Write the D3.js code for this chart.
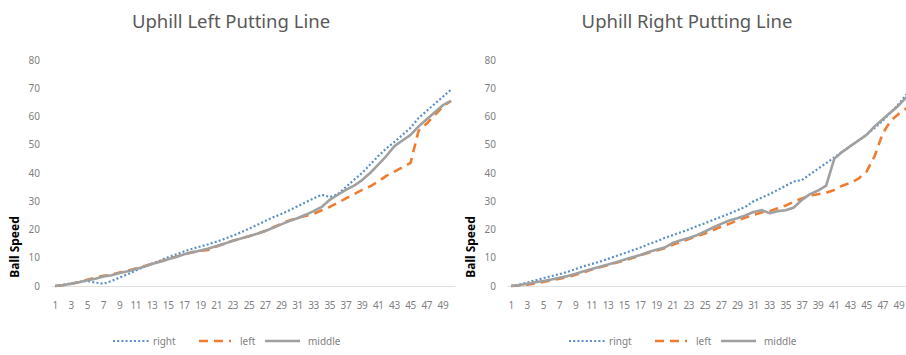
<!DOCTYPE html>
<html>
<head>
<meta charset="utf-8">
<script src="https://cdn.jsdelivr.net/npm/d3@7"></script>
<style>
  body { margin: 0; background: #fff; }
  text { font-family: "Noto Sans", "Open Sans", sans-serif; }
</style>
</head>
<body>
<div id="chart"></div>
<script>
// categories 1..50 along the x axis
var categories = [1,2,3,4,5,6,7,8,9,10,11,12,13,14,15,16,17,18,19,20,
	21,22,23,24,25,26,27,28,29,30,31,32,33,34,35,36,37,38,39,40,
	41,42,43,44,45,46,47,48,49,50];
var yTicks = [0, 10, 20, 30, 40, 50, 60, 70, 80];

// Uphill Left Putting Line
var upLeftRight = [0,0.4,1,1.5,1.8,1.2,0.8,1.8,3,4.2,5.5,6.8,8,9,10.2,11.2,12.3,13.2,14,14.8,
	15.7,16.7,17.8,19,20.3,21.6,23,24.3,25.5,26.8,28.2,29.6,31,32.3,31.5,32.5,35,37.6,40,43,
	46,48.7,51,53.5,56,59.5,62,64.5,67,69.5];
var upLeftLeft = [0,0.3,0.8,1.4,2.2,3,3.6,4,4.8,5.4,6.2,7,7.9,8.7,9.6,10.4,11.3,12,12.5,12.8,
	14,15,16,16.8,17.6,18.5,19.5,20.8,22,23.2,24.2,24.8,25.5,26.8,28,29.5,31,32.5,34,35.3,
	37,39,40.5,42,43.6,55,57.5,60.5,63.5,65.5];
var upLeftMiddle = [0,0.3,0.8,1.3,2,2.6,3.4,3.8,4.6,5.2,6,6.8,7.8,8.6,9.5,10.3,11.2,11.9,12.6,13.3,
	14.2,15,16,16.8,17.6,18.5,19.5,20.6,21.8,23,24,25.2,26.5,28,30.5,32.3,34,35.5,37.5,40,
	43,46,49.5,51.5,53.5,56.5,59,61.5,64,65.5];

// Uphill Right Putting Line
var upRightRight = [0,0.5,1.2,2,2.8,3.5,4.2,5,6,7,7.8,8.6,9.6,10.6,11.6,12.6,13.6,14.8,15.8,17,
	18,19,20,21.2,22.2,23.4,24.5,25.6,26.8,28,30,31.2,32.5,34,35.5,37,37.5,39.5,41.5,43.5,
	45.5,47.5,49.5,51.5,53.5,56,58.5,61.5,64.5,68];
var upRightLeft = [0,0.2,0.5,0.9,1.4,2,2.6,3.2,4,4.9,5.8,6.6,7.4,8.2,9,9.9,10.8,11.8,12.6,13.4,
	14.6,15.6,16.6,17.6,18.6,19.8,21,22,23.2,24.2,25.2,26,26.5,27.5,28.5,29.8,31,32,32.5,33,
	34,35.5,36.5,38,40.5,46,54,58.5,61,63];
var upRightMiddle = [0,0.3,0.8,1.3,1.8,2.3,2.9,3.5,4.3,5.2,6,6.8,7.6,8.4,9.3,10.2,11,12,12.8,13.6,
	15.2,16.2,17,18,19.3,20.7,22,23.2,24,25,26.2,26.8,25.8,26.5,26.8,27.8,30.5,32.5,33.8,35.5,
	45,47.5,49.5,51.5,53.5,56.5,59,61.5,64,67];

var W = 906, H = 355;
var svg = d3.select("#chart")
	.append("svg")
	.attr("width", W)
	.attr("height", H);

var styles = {
	right:  { color: "#5b8fc9", width: 2.2, dash: "2,2.2" },
	left:   { color: "#ed7d31", width: 2.6, dash: "9,6" },
	middle: { color: "#a0a0a0", width: 2.6, dash: null }
};

function drawPanel(offsetX, title, series, legendNames) {
	var panel = svg.append("g").attr("transform", "translate(" + offsetX + ",0)");
	var plotLeft = 51, plotW = 404, plotTop = 60, plotBottom = 286;

	var x = d3.scaleBand()
		.domain(categories)
		.range([plotLeft, plotLeft + plotW]);
	var y = d3.scaleLinear()
		.domain([0, 80])
		.range([plotBottom, plotTop]);

	panel.append("text")
		.attr("x", 231)
		.attr("y", 28)
		.attr("text-anchor", "middle")
		.attr("font-size", "18.5px")
		.attr("fill", "#595959")
		.text(title);

	panel.append("text")
		.attr("transform", "translate(19,247) rotate(-90)")
		.attr("text-anchor", "middle")
		.attr("font-size", "12px")
		.attr("font-weight", "bold")
		.attr("fill", "#000")
		.text("Ball Speed");

	var yAxis = panel.append("g")
		.attr("transform", "translate(" + plotLeft + ",0)")
		.call(d3.axisLeft(y).tickValues(yTicks).tickSize(0).tickPadding(11));
	yAxis.select(".domain").remove();
	yAxis.selectAll("text")
		.attr("font-size", "10px")
		.attr("fill", "#7f7f7f");

	var xAxis = panel.append("g")
		.attr("transform", "translate(0," + plotBottom + ")")
		.call(d3.axisBottom(x)
			.tickValues(categories.filter(function(d){ return d % 2 === 1; }))
			.tickSize(0)
			.tickPadding(16));
	xAxis.select(".domain")
		.attr("stroke", "#e0e0e0")
		.attr("stroke-width", 1);
	xAxis.selectAll("text")
		.attr("font-size", "10px")
		.attr("letter-spacing", "-0.4px")
		.attr("fill", "#7f7f7f");

	var line = d3.line()
		.x(function(d, i){ return x(categories[i]) + x.bandwidth() / 2; })
		.y(function(d){ return y(d); });

	["right", "left", "middle"].forEach(function(key) {
		var s = styles[key];
		panel.append("path")
			.datum(series[key])
			.attr("fill", "none")
			.attr("stroke", s.color)
			.attr("stroke-width", s.width)
			.attr("stroke-dasharray", s.dash)
			.attr("stroke-linejoin", "round")
			.attr("d", line);
	});

	// legend
	var legendItems = [
		{ key: "right",  x1: 113, x2: 150, tx: 153 },
		{ key: "left",   x1: 199, x2: 231, tx: 240 },
		{ key: "middle", x1: 265, x2: 300, tx: 308 }
	];
	legendItems.forEach(function(it, i) {
		var s = styles[it.key];
		panel.append("line")
			.attr("x1", it.x1).attr("x2", it.x2)
			.attr("y1", 341).attr("y2", 341)
			.attr("stroke", s.color)
			.attr("stroke-width", s.width)
			.attr("stroke-dasharray", s.dash);
		panel.append("text")
			.attr("x", it.tx)
			.attr("y", 345)
			.attr("font-size", "10px")
			.attr("fill", "#7f7f7f")
			.text(legendNames[i]);
	});
}

drawPanel(0, "Uphill Left Putting Line",
	{ right: upLeftRight, left: upLeftLeft, middle: upLeftMiddle },
	["right", "left", "middle"]);
drawPanel(456, "Uphill Right Putting Line",
	{ right: upRightRight, left: upRightLeft, middle: upRightMiddle },
	["ringt", "left", "middle"]);
</script>
</body>
</html>
